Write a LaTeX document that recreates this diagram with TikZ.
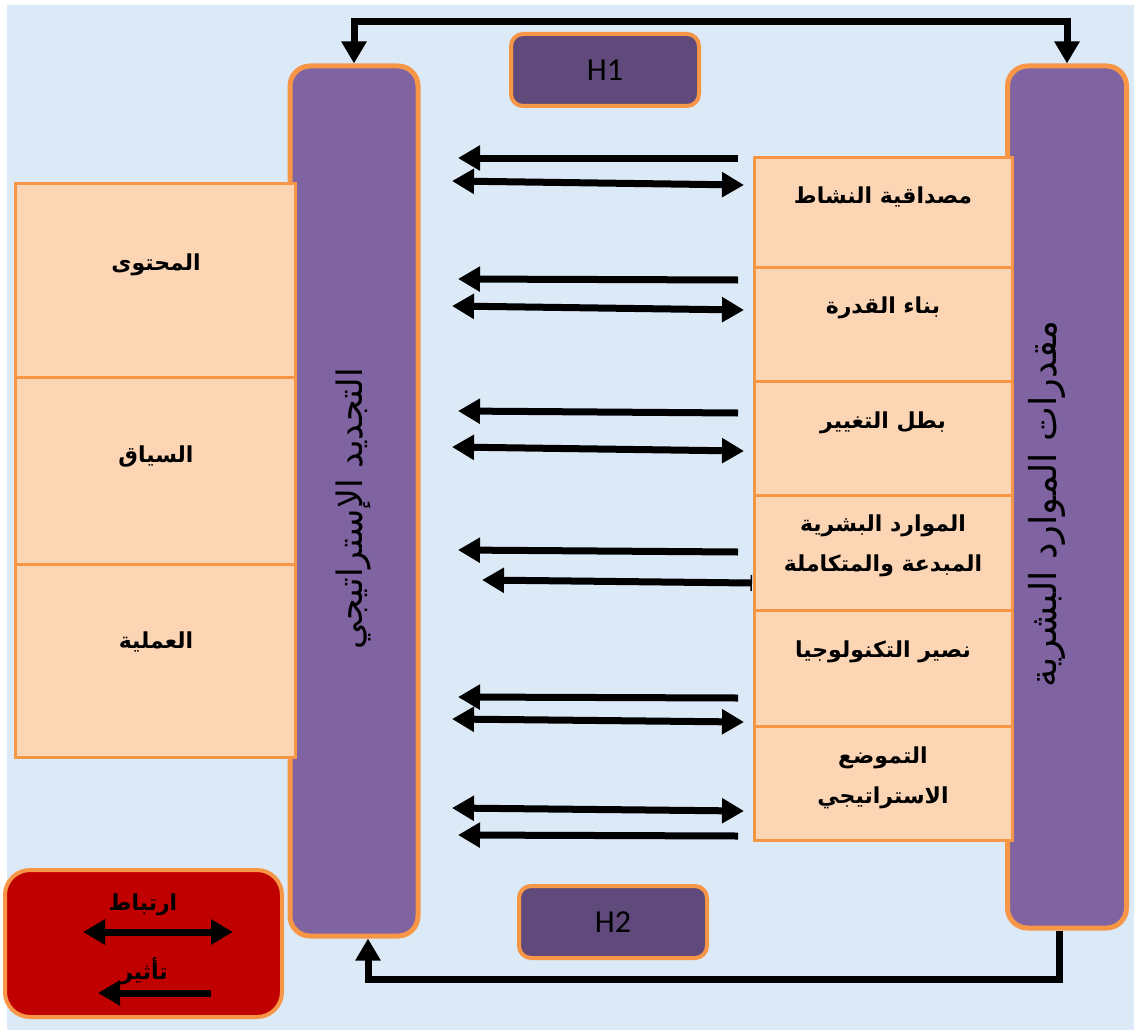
\documentclass[tikz,border=0pt]{standalone}
\usepackage{fontspec}
\usetikzlibrary{arrows.meta,calc}
\TeXXeTstate=1
\newfontfamily\arabicfont[Script=Arabic]{DejaVu Sans}
\newfontfamily\latinlabel{Carlito}

\definecolor{bgblue}{HTML}{DCE9F6}
\definecolor{purplebox}{HTML}{8064A2}
\definecolor{darkpurple}{HTML}{604A7B}
\definecolor{orangeline}{HTML}{F79646}
\definecolor{cellfill}{HTML}{FCD5B5}
\definecolor{legendred}{HTML}{C00000}

\tikzset{
  pillar/.style={draw=orangeline, fill=purplebox, line width=5pt, rounded corners=20pt, inner sep=0pt},
  hbox/.style={draw=orangeline, fill=darkpurple, line width=4pt, rounded corners=12pt,
    minimum width=188pt, minimum height=72pt, font=\latinlabel\fontsize{32}{36}\selectfont},
  cell/.style={draw=orangeline, fill=cellfill, line width=3pt, inner sep=0pt},
  celltext/.style={font=\arabicfont\bfseries\fontsize{22}{40}\selectfont, align=center, inner sep=0pt},
  vtext/.style={rotate=90, inner sep=0pt},
  head/.tip={Triangle[length=22pt,width=24pt]},
  oneway/.style={line width=7pt, -head},
  twoway/.style={line width=7pt, head-head},
}

\begin{document}
\begin{tikzpicture}[x=1pt,y=-1pt]
  % page and light blue backdrop
  \useasboundingbox (0,0) rectangle (1134,1030);
  \fill[white] (0,0) rectangle (1134,1030);
  \fill[bgblue] (7,5) rectangle (1134,1030);

  % the two pillars
  \node[pillar, minimum width=128pt, minimum height=870pt] (lbox) at (354,501) {};
  \node[pillar, minimum width=119pt, minimum height=862pt] (rbox) at (1067,497) {};
  \node[vtext, font=\arabicfont\fontsize{35}{40}\selectfont] (ltitle) at (353,509)
       {\beginR التجديد الإستراتيجي\endR};
  \node[vtext, font=\arabicfont\fontsize{37}{42}\selectfont] (rtitle) at (1047,504)
       {\beginR مقدرات الموارد البشرية\endR};

  % hypothesis labels
  \node[hbox] (h1) at (605,70) {H1};
  \node[hbox] (h2) at (613,922) {H2};

  % left column: dimensions of strategic renewal
  \node[cell, minimum width=280pt, minimum height=194pt] (c1) at (155,280) {};
  \node[cell, minimum width=280pt, minimum height=187pt] (c2) at (155,470.5) {};
  \node[cell, minimum width=280pt, minimum height=193pt] (c3) at (155,660.5) {};
  \node[celltext] (t1) at (156,265) {\beginR المحتوى\endR};
  \node[celltext] (t2) at (156,457) {\beginR السياق\endR};
  \node[celltext] (t3) at (156,642) {\beginR العملية\endR};

  % right column: human resource capabilities
  \node[cell, minimum width=258pt, minimum height=110pt] (r1) at (883,212) {};
  \node[cell, minimum width=258pt, minimum height=114pt] (r2) at (883,324) {};
  \node[cell, minimum width=258pt, minimum height=114pt] (r3) at (883,438) {};
  \node[cell, minimum width=258pt, minimum height=115pt] (r4) at (883,552.5) {};
  \node[cell, minimum width=258pt, minimum height=116pt] (r5) at (883,668) {};
  \node[cell, minimum width=258pt, minimum height=114pt] (r6) at (883,783) {};
  \node[celltext] (s1) at (883,197) {\beginR مصداقية النشاط\endR};
  \node[celltext] (s2) at (883,308) {\beginR بناء القدرة\endR};
  \node[celltext] (s3) at (883,423) {\beginR بطل التغيير\endR};
  \node[celltext] (s4) at (883,546) {\beginR الموارد البشرية\endR\\\beginR المبدعة والمتكاملة\endR};
  \node[celltext] (s5) at (883,652) {\beginR نصير التكنولوجيا\endR};
  \node[celltext] (s6) at (883,778) {\beginR التموضع\endR\\\beginR الاستراتيجي\endR};

  % arrow end points between the pillars
  \foreach \n/\ya/\yb/\yc/\yd in {1/158/158/181/185, 2/280/279/306/310, 3/413/411/447/451,
                                  5/698/697/719/722, 6/836/835/808/811}{
    \coordinate (o\n a) at (738,\ya);
    \coordinate (o\n b) at (458,\yb);
    \coordinate (w\n a) at (452,\yc);
    \coordinate (w\n b) at (744,\yd);
  }
  \coordinate (o4a) at (738,552);  \coordinate (o4b) at (458,550);
  \coordinate (u4a) at (752,583);  \coordinate (u4b) at (482,580);

  \foreach \n in {1,2,3,5,6}{
    \draw[oneway] (o\n a) -- (o\n b);
    \draw[twoway] (w\n a) -- (w\n b);
  }
  \draw[oneway] (o4a) -- (o4b);
  \draw[line width=7pt, {Bar[width=16pt,line width=1.5pt]}-head] (u4a) -- (u4b);

  % loops between the pillars
  \draw[twoway] (lbox.north) -- ++(0,-42) -| (rbox.north);
  \draw[oneway] ($(rbox.south)+(-8,0)$) |- ++(0,49) -| ($(lbox.south)+(14,0)$);

  % legend
  \node[draw=orangeline, fill=legendred, line width=4pt, rounded corners=25pt,
        minimum width=277pt, minimum height=147pt] (legend) at (143.5,943.5) {};
  \node[celltext] (lg1) at (143,905) {\beginR ارتباط\endR};
  \node[celltext] (lg2) at (144,971) {\beginR تأثير\endR};
  \coordinate (lga) at (83,932);  \coordinate (lgb) at (233,932);
  \coordinate (lgc) at (211,993); \coordinate (lgd) at (98,993);
  \draw[twoway] (lga) -- (lgb);
  \draw[oneway] (lgc) -- (lgd);
\end{tikzpicture}
\end{document}
